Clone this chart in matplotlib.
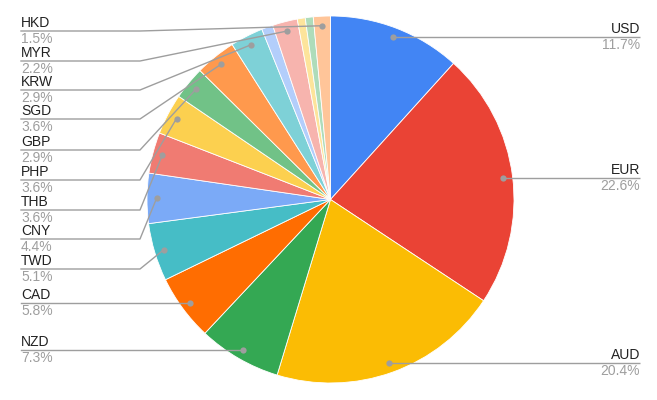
import numpy as np
import matplotlib
matplotlib.use("Agg")
import matplotlib.pyplot as plt

# ---- data ----
categories = ["USD", "EUR", "AUD", "NZD", "CAD", "TWD", "CNY", "THB", "PHP",
              "GBP", "SGD", "KRW", "", "MYR", "", "", "HKD"]
values = [11.7, 22.6, 20.4, 7.3, 5.8, 5.1, 4.4, 3.6, 3.6,
          2.9, 3.6, 2.9, 1.0, 2.2, 0.7, 0.7, 1.5]
pct_labels = ["11.7%", "22.6%", "20.4%", "7.3%", "5.8%", "5.1%", "4.4%", "3.6%", "3.6%",
              "2.9%", "3.6%", "2.9%", "", "2.2%", "", "", "1.5%"]

# ---- style / layout ----
colors = ["#4285F4", "#EA4335", "#FBBC04", "#34A853", "#FF6D01", "#46BDC6",
          "#7BAAF7", "#F07B72", "#FCD04F", "#71C287", "#FF994D", "#7ED1D7",
          "#B3CEFB", "#F7B4AE", "#FDE49B", "#AEDCBA", "#FFC599"]
W, H = 657, 400
CX, CY, R = 330.5, H - 199.5, 183.5
DOT_R = 0.948
LEFT_X, BEND_X, RIGHT_X = 21, 140, 640
left_label_img_y = [31, 61, 90, 119, 150, 180, 210, 239, 269, None, None]
line_col = "#9e9e9e"
name_col = "#222222"
pct_col = "#9e9e9e"
FONT = ["Liberation Sans", "DejaVu Sans"]
FS = 10

fig = plt.figure(figsize=(W / 100, H / 100), dpi=100)
ax = fig.add_axes([0, 0, 1, 1])
wedges, _ = ax.pie(values, colors=colors, startangle=90, counterclock=False,
                   center=(CX, CY), radius=R,
                   wedgeprops=dict(edgecolor="white", linewidth=0.6))
ax.set_xlim(0, W)
ax.set_ylim(0, H)
ax.set_aspect("equal")
ax.axis("off")

left_items, right_items = [], []
for w, name, pct in zip(wedges, categories, pct_labels):
    if not name:
        continue
    mid = np.deg2rad((w.theta1 + w.theta2) / 2)
    dx = CX + DOT_R * R * np.cos(mid)
    dy = CY + DOT_R * R * np.sin(mid)
    (right_items if dx > CX else left_items).append((dx, dy, name, pct))

def put_text(x, ly, name, pct, ha):
    ax.text(x, ly + 4, name, ha=ha, va="baseline", color=name_col,
            fontsize=FS, family=FONT)
    ax.text(x, ly - 12, pct, ha=ha, va="baseline", color=pct_col,
            fontsize=FS, family=FONT)

for dx, dy, name, pct in right_items:
    ax.plot([dx, RIGHT_X], [dy, dy], color=line_col, lw=1, solid_capstyle="butt")
    ax.plot(dx, dy, "o", color=line_col, ms=4.5, mec="none")
    put_text(RIGHT_X, dy, name, pct, "right")

left_items.sort(key=lambda t: -t[1])
for (dx, dy, name, pct), liy in zip(left_items, left_label_img_y):
    ly = dy if liy is None else H - liy
    if liy is None:
        ax.plot([LEFT_X, dx], [ly, dy], color=line_col, lw=1)
    else:
        ax.plot([LEFT_X, BEND_X, dx], [ly, ly, dy], color=line_col, lw=1)
    ax.plot(dx, dy, "o", color=line_col, ms=4.5, mec="none")
    put_text(LEFT_X, ly, name, pct, "left")

fig.savefig("out.png", dpi=100, facecolor="white")
